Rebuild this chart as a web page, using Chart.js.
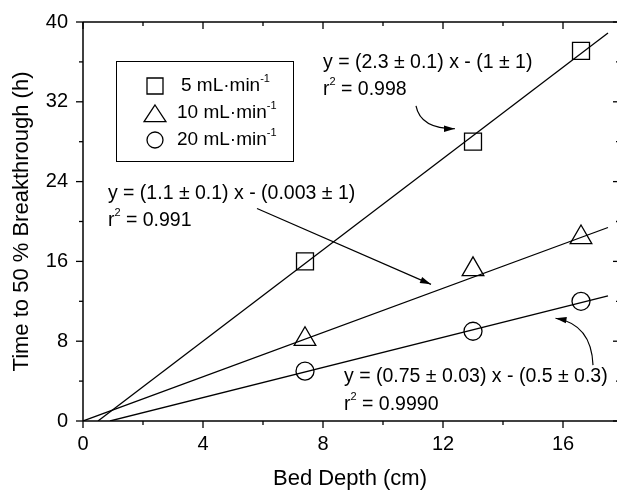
<!DOCTYPE html>
<html><head><meta charset="utf-8">
<script src="https://cdn.jsdelivr.net/npm/chart.js@4.4.0/dist/chart.umd.min.js"></script>
<style>html,body{margin:0;padding:0;background:#fff}canvas{display:block}</style>
</head><body>
<canvas id="c" width="617" height="490"></canvas>
<script>
// ---- data ----
const bedDepth = [7.4, 13.0, 16.6];
const time5 = [16.0, 28.0, 37.1];
const time10 = [8.2, 15.2, 18.4];
const time20 = [5.0, 9.0, 12.0];
const seriesNames = ['5 mL·min', '10 mL·min', '20 mL·min'];
const unitSup = '-1';
// fitted lines (end points)
const fitX5 = [0.5, 17.5],  fitY5 = [0, 38.9];
const fitX10 = [0, 17.5],   fitY10 = [0, 19.4];
const fitX20 = [0.9, 17.5], fitY20 = [0, 12.55];
const fitEquations = ['y = (2.3 ± 0.1) x - (1 ± 1)', 'y = (1.1 ± 0.1) x - (0.003 ± 1)', 'y = (0.75 ± 0.03) x - (0.5 ± 0.3)'];
const fitR2 = ['0.998', '0.991', '0.9990'];
const xTickValues = [0, 4, 8, 12, 16];
const xMinorValues = [2, 6, 10, 14];
const yTickValues = [0, 8, 16, 24, 32, 40];
const yMinorValues = [4, 12, 20, 28, 36];
const xTitle = 'Bed Depth (cm)';
const yTitle = 'Time to 50 % Breakthrough (h)';

const FONT = "'Liberation Sans', Arial, Helvetica, sans-serif";
Chart.defaults.font.family = FONT;

const pts = ys => bedDepth.map((x, i) => ({x: x, y: ys[i]}));
const seg = (xs, ys) => xs.map((x, i) => ({x: x, y: ys[i]}));

// annotation placement (in data units)
const annot = [
  {tx: 8.0, ty: 35.9, ry: 33.2, arrow: {type: 'curve', p0: [11.1, 31.6], c: [11.25, 29.3], p1: [12.4, 29.3]}},
  {tx: 0.83, ty: 22.8, ry: 20.1, arrow: {type: 'line', p0: [5.8, 21.3], p1: [11.6, 13.7]}},
  {tx: 8.7, ty: 4.45, ry: 1.65, arrow: {type: 'curve', p0: [17.0, 5.6], c: [16.95, 9.7], p1: [15.75, 10.3]}}
];

function richText(ctx, x, y, parts, size) {
  let cx = x;
  parts.forEach(([t, sup]) => {
    if (sup) {
      ctx.font = Math.round(size * 0.58) + 'px ' + FONT;
      ctx.fillText(t, cx, y - size * 0.38);
    } else {
      ctx.font = size + 'px ' + FONT;
      ctx.fillText(t, cx, y);
    }
    cx += ctx.measureText(t).width;
  });
}

function arrowHead(ctx, tip, from, len, half) {
  const dx = tip[0] - from[0], dy = tip[1] - from[1];
  const d = Math.hypot(dx, dy) || 1;
  const ux = dx / d, uy = dy / d;
  ctx.beginPath();
  ctx.moveTo(tip[0], tip[1]);
  ctx.lineTo(tip[0] - ux * len - uy * half, tip[1] - uy * len + ux * half);
  ctx.lineTo(tip[0] - ux * len + uy * half, tip[1] - uy * len - ux * half);
  ctx.closePath();
  ctx.fill();
}

function marker(ctx, style, x, y, r) {
  ctx.beginPath();
  if (style === 'rect') {
    ctx.rect(x - r, y - r, 2 * r, 2 * r);
  } else if (style === 'triangle') {
    const w = r * 1.15;
    ctx.moveTo(x, y - r);
    ctx.lineTo(x + w, y + r * 0.75);
    ctx.lineTo(x - w, y + r * 0.75);
    ctx.closePath();
  } else {
    ctx.arc(x, y, r, 0, Math.PI * 2);
  }
  ctx.stroke();
}

const decor = {
  id: 'decor',
  afterDraw(chart) {
    const {ctx, chartArea: a, scales} = chart;
    const sx = scales.x, sy = scales.y;
    const P = (v) => [sx.getPixelForValue(v[0]), sy.getPixelForValue(v[1])];
    ctx.save();
    ctx.strokeStyle = '#000';
    ctx.fillStyle = '#000';
    ctx.lineWidth = 1.5;
    const rightX = a.right + 3;
    const line = (x1, y1, x2, y2) => { ctx.beginPath(); ctx.moveTo(x1, y1); ctx.lineTo(x2, y2); ctx.stroke(); };
    // frame
    line(a.left, a.top, rightX, a.top);
    line(a.left, a.bottom, rightX, a.bottom);
    line(a.left, a.top, a.left, a.bottom);
    line(rightX, a.top, rightX, a.bottom);
    // ticks
    ctx.lineWidth = 1.3;
    xTickValues.forEach(v => { const p = sx.getPixelForValue(v); line(p, a.bottom, p, a.bottom + 7); line(p, a.top, p, a.top + 7); });
    xMinorValues.forEach(v => { const p = sx.getPixelForValue(v); line(p, a.bottom, p, a.bottom + 4); line(p, a.top, p, a.top + 4); });
    yTickValues.forEach(v => { const p = sy.getPixelForValue(v); line(a.left - 7, p, a.left, p); line(rightX, p, rightX - 7, p); });
    yMinorValues.forEach(v => { const p = sy.getPixelForValue(v); line(a.left - 4, p, a.left, p); line(rightX, p, rightX - 4, p); });

    // legend
    const bx = a.left + 33, by = a.top + 39, bw = 177, bh = 100;
    ctx.lineWidth = 1;
    ctx.strokeRect(bx + 0.5, by + 0.5, bw, bh);
    const styles = ['rect', 'triangle', 'circle'];
    const sizes = [8, 9.5, 8];
    const textOff = [4, 0, 0];
    ctx.textBaseline = 'middle';
    ctx.textAlign = 'left';
    styles.forEach((s, i) => {
      const ry = by + 25 + i * 27;
      ctx.lineWidth = 1.3;
      marker(ctx, s, bx + 39, ry + (s === 'triangle' ? 1.5 : 0), sizes[i]);
      richText(ctx, bx + 61 + textOff[i], ry, [[seriesNames[i], false], [unitSup, true]], 19);
    });

    // annotations
    ctx.lineWidth = 1.2;
    annot.forEach((an, i) => {
      const tx = sx.getPixelForValue(an.tx);
      richText(ctx, tx, sy.getPixelForValue(an.ty), [[fitEquations[i], false]], 19.5);
      richText(ctx, tx, sy.getPixelForValue(an.ry), [['r', false], ['2', true], [' = ' + fitR2[i], false]], 19.5);
      const ar = an.arrow;
      const p0 = P(ar.p0), p1 = P(ar.p1);
      ctx.beginPath();
      ctx.moveTo(p0[0], p0[1]);
      let from;
      if (ar.type === 'curve') {
        const c = P(ar.c);
        ctx.quadraticCurveTo(c[0], c[1], p1[0], p1[1]);
        from = c;
      } else {
        ctx.lineTo(p1[0], p1[1]);
        from = p0;
      }
      ctx.stroke();
      arrowHead(ctx, p1, from, 11, 3.2);
    });
    ctx.restore();
  }
};

const black = '#000';
new Chart(document.getElementById('c'), {
  type: 'scatter',
  data: {
    datasets: [
      {data: seg(fitX5, fitY5), showLine: true, pointRadius: 0, borderColor: black, borderWidth: 1.3},
      {data: seg(fitX10, fitY10), showLine: true, pointRadius: 0, borderColor: black, borderWidth: 1.3},
      {data: seg(fitX20, fitY20), showLine: true, pointRadius: 0, borderColor: black, borderWidth: 1.3},
      {label: seriesNames[0], data: pts(time5), pointStyle: 'rect', pointRadius: 12, borderColor: black, borderWidth: 1.3, backgroundColor: 'rgba(0,0,0,0)'},
      {label: seriesNames[1], data: pts(time10), pointStyle: 'triangle', pointRadius: 12.5, borderColor: black, borderWidth: 1.3, backgroundColor: 'rgba(0,0,0,0)'},
      {label: seriesNames[2], data: pts(time20), pointStyle: 'circle', pointRadius: 9, borderColor: black, borderWidth: 1.3, backgroundColor: 'rgba(0,0,0,0)'}
    ]
  },
  options: {
    responsive: false,
    devicePixelRatio: 1,
    animation: false,
    events: [],
    layout: {autoPadding: false, padding: {top: 22, right: 0, bottom: 0, left: 0}},
    plugins: {legend: {display: false}, tooltip: {enabled: false}},
    scales: {
      x: {
        type: 'linear', min: 0, max: 17.8,
        afterBuildTicks: s => { s.ticks = xTickValues.map(v => ({value: v})); },
        afterFit: s => { s.height = 69; s.paddingLeft = 0; s.paddingRight = 0; },
        grid: {display: false, drawTicks: false},
        border: {display: false},
        ticks: {color: black, font: {size: 20}, padding: 11, maxRotation: 0, autoSkip: false},
        title: {display: true, text: xTitle, color: black, font: {size: 22, lineHeight: 1.0}, padding: {top: 0, bottom: 0}}
      },
      y: {
        type: 'linear', min: 0, max: 40,
        afterBuildTicks: s => { s.ticks = yTickValues.map(v => ({value: v})); },
        afterFit: s => { s.width = 83; s.paddingTop = 0; s.paddingBottom = 0; },
        grid: {display: false, drawTicks: false},
        border: {display: false},
        ticks: {color: black, font: {size: 20}, padding: 15, autoSkip: false},
        title: {display: true, text: yTitle, color: black, font: {size: 22}, padding: {top: 9, bottom: 0}}
      }
    }
  },
  plugins: [decor]
});
</script>
</body></html>
